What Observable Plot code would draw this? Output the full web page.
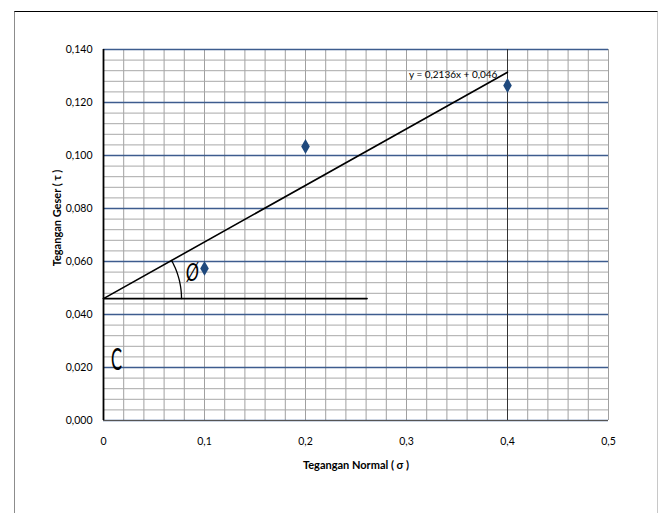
<!DOCTYPE html>
<html>
<head>
<meta charset="utf-8">
<script src="https://cdn.jsdelivr.net/npm/d3@7"></script>
<script src="https://cdn.jsdelivr.net/npm/@observablehq/plot@0.6"></script>
<style>
  html, body { margin: 0; padding: 0; background: #fff; }
  #wrap { position: relative; width: 661px; height: 513px; overflow: hidden; }
  #frame { position: absolute; left: 14px; top: 11px; width: 642px; height: 510px;
           border-top: 1.5px solid #000; border-left: 1px solid #8c8c8c; border-right: 1px solid #c8c8c8; pointer-events: none; }
  svg { display: block; }
</style>
</head>
<body>
<div id="wrap"><div id="frame"></div></div>
<script>
// Data
const normalStress = [0.1, 0.2, 0.4];          // Tegangan Normal (σ)
const shearStress  = [0.0574, 0.1034, 0.1264];  // Tegangan Geser (τ)
const trendSlope = 0.2136;
const trendIntercept = 0.046;
const equationLabel = "y = 0,2136x + 0,046";
const xTicks = [0, 0.1, 0.2, 0.3, 0.4, 0.5];
const yTicks = [0, 0.02, 0.04, 0.06, 0.08, 0.10, 0.12, 0.14];
const xTitle = "Tegangan Normal ( σ )";
const yTitle = "Tegangan Geser ( τ )";

const font = "Lato, 'Open Sans', sans-serif";
const comma = d => d === 0 ? "0" : String(+d.toFixed(2)).replace(".", ",");
const yFmt = d => d.toFixed(3).replace(".", ",");

const points = normalStress.map((x, i) => ({x, y: shearStress[i]}));
const xMax = d3.max(normalStress);
const trend = [0, xMax].map(x => ({x, y: trendSlope * x + trendIntercept}));
const baseEnd = 0.261;
const baseLine = [{x: 0, y: trendIntercept}, {x: baseEnd, y: trendIntercept}];

const xMinor = d3.range(0, 0.5001, 0.02);
const yMinor = d3.range(0, 0.1401, 0.004);

const W = 661, H = 513, mL = 103, mR = 53, mT = 49, mB = 93;
// angle of trend line in pixel space for the arc annotation
const pxPerX = (W - mL - mR) / 0.5, pxPerY = (H - mT - mB) / 0.14;
const theta = Math.atan((trendSlope * pxPerY) / pxPerX);
const arcR = 78;
const arc = d3.range(0, 31).map(i => {
  const t = theta * i / 30;
  return {x: arcR * Math.cos(t) / pxPerX, y: trendIntercept + arcR * Math.sin(t) / pxPerY};
});

const chart = Plot.plot({
  width: W, height: H,
  marginLeft: mL, marginRight: mR, marginTop: mT, marginBottom: mB,
  style: {fontFamily: font, fontSize: "10.5px", color: "#000", background: "transparent"},
  x: {domain: [0, 0.5]},
  y: {domain: [0, 0.14]},
  marks: [
    Plot.ruleX(xMinor, {stroke: "#a0a0a0", strokeWidth: 1}),
    Plot.ruleY(yMinor, {stroke: "#a8a8a8", strokeWidth: 1}),
    Plot.ruleY(yTicks, {stroke: "#3d5c8e", strokeWidth: 1.4}),
    Plot.ruleX([xMax], {stroke: "#333", strokeWidth: 1}),
    Plot.ruleY([0], {stroke: "#555", strokeWidth: 1.2}),
    Plot.ruleX([0], {stroke: "#000", strokeWidth: 1.8}),
    Plot.axisX({ticks: xTicks, tickFormat: comma, tickSize: 0, tickPadding: 17, label: null, fontSize: 10.5}),
    Plot.axisY({ticks: yTicks, tickFormat: yFmt, tickSize: 0, tickPadding: 11, label: null, fontSize: 10.5}),
    Plot.text([xTitle], {frameAnchor: "bottom", dy: 48, fontWeight: "bold", fontSize: 11}),
    Plot.text([yTitle], {frameAnchor: "left", textAnchor: "middle", dx: -46, dy: -17, rotate: -90, fontWeight: "bold", fontSize: 11}),
    Plot.line(trend, {x: "x", y: "y", stroke: "#000", strokeWidth: 1.6}),
    Plot.line(baseLine, {x: "x", y: "y", stroke: "#000", strokeWidth: 1.6}),
    Plot.line(arc, {x: "x", y: "y", stroke: "#000", strokeWidth: 1.3}),
    Plot.dot(points, {x: "x", y: "y", symbol: "diamond", r: 4.5, fill: "#1f497d", stroke: "none"}),
    Plot.text([equationLabel], {x: () => 0.39, y: () => trendSlope * 0.39 + trendIntercept, dy: -3, textAnchor: "end", fontSize: 10}),
    Plot.text(["Ø"], {x: () => 0.088, y: () => 0.0555, fontSize: 25, fontStyle: "italic", fill: "#000"}),
    Plot.text(["C"], {x: () => 0.0129, y: () => 0.0226, fontSize: 30, fill: "#000"})
  ]
});

// narrow the annotation glyphs like the condensed original
const squash = {"C": 0.55, "Ø": 0.7};
d3.select(chart).selectAll("text").each(function() {
  const s = squash[this.textContent];
  if (!s) return;
  const tr = this.getAttribute("transform");
  if (tr && /translate/.test(tr)) {
    this.setAttribute("transform", tr + ` scale(${s},1)`);
  } else {
    const x = +this.getAttribute("x") || 0, y = +this.getAttribute("y") || 0;
    this.setAttribute("transform", `translate(${x},${y}) scale(${s},1) translate(${-x},${-y})`);
  }
});
document.getElementById("wrap").prepend(chart);
</script>
</body>
</html>
